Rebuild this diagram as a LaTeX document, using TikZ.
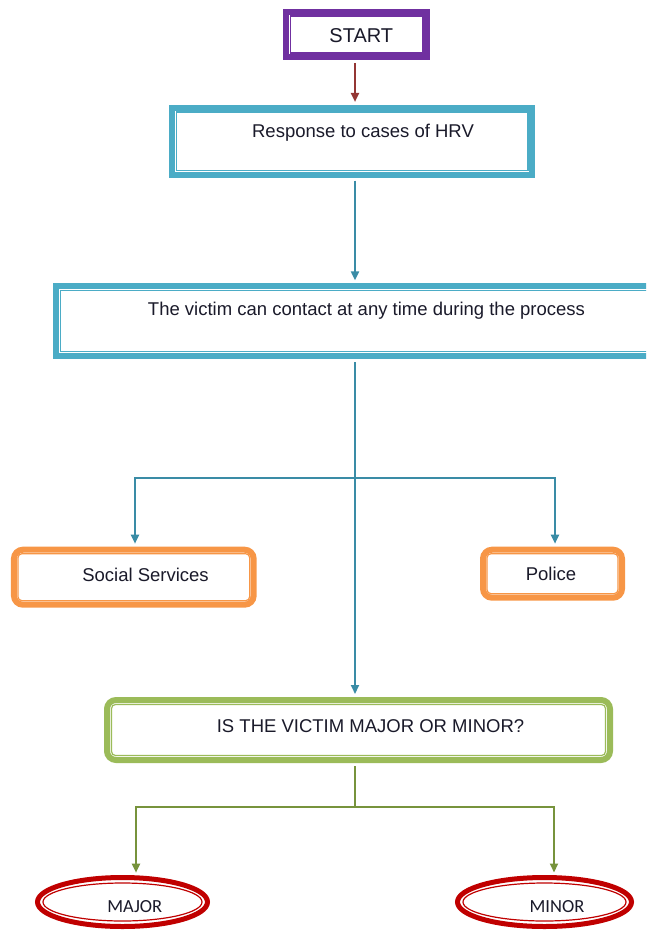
\documentclass[tikz,border=0pt]{standalone}
\usepackage{fontspec}
\setmainfont{Liberation Sans}
\newfontfamily\ovalfont{Carlito}
\usetikzlibrary{arrows.meta,shapes.geometric,calc}

\definecolor{startpurple}{HTML}{7030A0}
\definecolor{boxteal}{HTML}{4BACC6}
\definecolor{lineteal}{HTML}{3A8CA6}
\definecolor{boxorange}{HTML}{F79646}
\definecolor{boxgreen}{HTML}{9BBB59}
\definecolor{linegreen}{HTML}{77933C}
\definecolor{ovalred}{HTML}{C00000}
\definecolor{arrowred}{HTML}{943634}
\definecolor{txtblack}{HTML}{1A1A2A}

\tikzset{
  frame/.style={draw=#1, line width=6pt, fill=white, inner sep=0pt},
  roundframe/.style={frame=#1, rounded corners=9pt},
  ovalframe/.style={draw=#1, line width=5pt, fill=white, ellipse, inner sep=0pt},
  innerline/.style={draw=#1, line width=1.2pt},
  label/.style={anchor=base, inner sep=0pt, text=txtblack,
    font=\fontsize{18.5}{20}\selectfont},
  ovallabel/.style={anchor=base, inner sep=0pt, text=txtblack,
    font=\ovalfont\fontsize{18.5}{20}\selectfont},
  conn/.style={line width=2pt, draw=#1, -{Triangle[length=9pt,width=8pt]}},
  plain/.style={line width=2pt, draw=#1},
}

\begin{document}
\begin{tikzpicture}[x=1pt,y=-1pt]
\useasboundingbox (0,0) rectangle (646,931);
\clip (0,0) rectangle (646,931);

% boxes, each with a thick outer border and a thin line inside it
\node[frame=startpurple, minimum width=140.7pt, minimum height=45pt] (start) at (356.7,34.5) {};
\draw[innerline=startpurple] ([shift={(7,7)}]start.north west) rectangle ([shift={(-7,-7)}]start.south east);

\node[frame=boxteal, minimum width=359.7pt, minimum height=66.7pt] (resp) at (352.2,141.3) {};
\draw[innerline=boxteal] ([shift={(7,7)}]resp.north west) rectangle ([shift={(-7,-7)}]resp.south east);

\node[frame=boxteal, minimum width=603.7pt, minimum height=69.7pt] (victim) at (358.2,321.2) {};
\draw[innerline=boxteal] ([shift={(7.5,7.5)}]victim.north west) rectangle ([shift={(-7.5,-7.5)}]victim.south east);

\node[roundframe=boxorange, minimum width=239.7pt, minimum height=55pt] (social) at (133.8,577.2) {};
\draw[innerline=boxorange, rounded corners=4pt] ([shift={(7,7)}]social.north west) rectangle ([shift={(-7,-7)}]social.south east);

\node[roundframe=boxorange, minimum width=139pt, minimum height=48pt] (police) at (552.5,573.7) {};
\draw[innerline=boxorange, rounded corners=4pt] ([shift={(7,7)}]police.north west) rectangle ([shift={(-7,-7)}]police.south east);

\node[roundframe=boxgreen, minimum width=503pt, minimum height=60pt] (question) at (358.5,730) {};
\draw[innerline=boxgreen, rounded corners=4pt] ([shift={(7.5,7.5)}]question.north west) rectangle ([shift={(-7.5,-7.5)}]question.south east);

\node[ovalframe=ovalred, minimum width=170pt, minimum height=49pt] (major) at (122.5,902) {};
\draw[innerline=ovalred] (major.center) ellipse [x radius=79.5pt, y radius=19pt];

\node[ovalframe=ovalred, minimum width=174pt, minimum height=49pt] (minor) at (544.5,902) {};
\draw[innerline=ovalred] (minor.center) ellipse [x radius=81.5pt, y radius=19pt];

% texts
\node[label, font=\fontsize{20}{22}\selectfont] (starttxt) at (361.3,43) {START};
\node[label] (resptxt) at (363,138) {Response to cases of HRV};
\node[label] (victimtxt) at (366.5,315) {The victim can contact at any time during the process};
\node[label] (socialtxt) at (145.5,581.7) {Social Services};
\node[label] (policetxt) at (551,580) {Police};
\node[label] (questiontxt) at (370.5,732) {IS THE VICTIM MAJOR OR MINOR?};
\node[ovallabel] (majortxt) at (134.8,912.7) {MAJOR};
\node[ovallabel] (minortxt) at (557,912.7) {MINOR};

% connectors
\coordinate (spine) at (355,0);
\coordinate (split) at (355,478);
\coordinate (gsplit) at (355,807);

\draw[conn=arrowred] ($(spine |- start.south)+(0,3)$) -- ($(spine |- resp.north)+(0,-3)$);
\draw[conn=lineteal] ($(spine |- resp.south)+(0,3)$) -- ($(spine |- victim.north)+(0,-3)$);
\draw[conn=lineteal] ($(spine |- victim.south)+(0,3)$) -- ($(spine |- question.north)+(0,-3)$);
\draw[conn=lineteal] (split) -| ($(social.north)+(1.2,-3)$);
\draw[conn=lineteal] (split) -| ($(police.north)+(2.5,-3)$);
\draw[plain=linegreen] ($(spine |- question.south)+(0,3)$) -- (gsplit);
\draw[conn=linegreen] (gsplit) -| ($(major.north)+(13.5,-2.3)$);
\draw[conn=linegreen] (gsplit) -| ($(minor.north)+(9.5,-2.5)$);
\end{tikzpicture}
\end{document}
